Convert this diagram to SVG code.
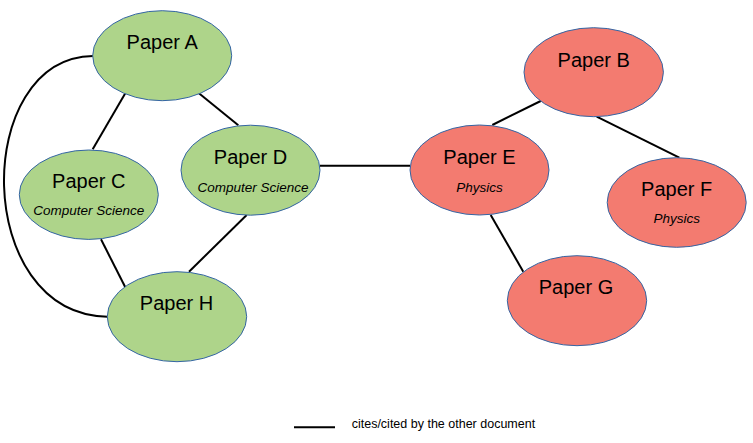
<svg xmlns="http://www.w3.org/2000/svg" width="753" height="443" viewBox="0 0 753 443">
<style>
.cs{fill:#aed48a;stroke:#3465a4;stroke-width:1}
.ph{fill:#f37b70;stroke:#3465a4;stroke-width:1}
.t{font-family:"Liberation Sans",Arial,sans-serif;font-size:20px;fill:#000;text-anchor:middle}
.s{font-family:"Liberation Sans",Arial,sans-serif;font-size:13.5px;font-style:italic;fill:#000;text-anchor:middle}
.e{stroke:#000;stroke-width:2;fill:none}
.l{font-family:"Liberation Sans",Arial,sans-serif;font-size:12.5px;fill:#000}
</style>
<rect width="753" height="443" fill="#fff"/>
<g id="connectors">
<line class="e" x1="125.3" y1="93.3" x2="92.7" y2="149.3"/>
<line class="e" x1="198.3" y1="92.7" x2="238.3" y2="125.3"/>
<line class="e" x1="101" y1="239.3" x2="125.3" y2="287.3"/>
<line class="e" x1="246.7" y1="215" x2="189" y2="271.7"/>
<path class="e" d="M93,56 C-28,58 -28,314 107.5,316.7"/>
<line class="e" x1="320" y1="165.7" x2="410" y2="165.7"/>
<line class="e" x1="540.7" y1="101" x2="492.3" y2="125"/>
<line class="e" x1="596.7" y1="116.7" x2="679.3" y2="157.7"/>
<line class="e" x1="490.7" y1="215" x2="523.3" y2="271.7"/>
</g>
<g id="paperA">
<ellipse class="cs" cx="162.2" cy="55.7" rx="69.5" ry="45"/>
<text class="t" x="162.2" y="49.3">Paper A</text>
</g>
<g id="paperC">
<ellipse class="cs" cx="88.8" cy="194.7" rx="69.5" ry="44.7"/>
<text class="t" x="88.8" y="188.3">Paper C</text>
<text class="s" x="88.8" y="215">Computer Science</text>
</g>
<g id="paperD">
<ellipse class="cs" cx="250.5" cy="170.2" rx="69.5" ry="45"/>
<text class="t" x="250.5" y="164.3">Paper D</text>
<text class="s" x="253" y="191.7">Computer Science</text>
</g>
<g id="paperH">
<ellipse class="cs" cx="177" cy="316.7" rx="69.7" ry="45"/>
<text class="t" x="176.5" y="310">Paper H</text>
</g>
<g id="paperB">
<ellipse class="ph" cx="593.7" cy="72.2" rx="69.7" ry="44.5"/>
<text class="t" x="593.7" y="66.7">Paper B</text>
</g>
<g id="paperE">
<ellipse class="ph" cx="479.5" cy="170" rx="69.5" ry="45"/>
<text class="t" x="479.5" y="164">Paper E</text>
<text class="s" x="479.5" y="191.7">Physics</text>
</g>
<g id="paperF">
<ellipse class="ph" cx="676.7" cy="202.5" rx="69.5" ry="44.8"/>
<text class="t" x="676.7" y="196">Paper F</text>
<text class="s" x="676.7" y="223.3">Physics</text>
</g>
<g id="paperG">
<ellipse class="ph" cx="577" cy="300.7" rx="69.7" ry="45"/>
<text class="t" x="576" y="294">Paper G</text>
</g>
<g id="legend">
<line x1="294" y1="427.3" x2="335" y2="427.3" stroke="#000" stroke-width="2"/>
<text class="l" x="351.7" y="427.5">cites/cited by the other document</text>
</g>
</svg>
